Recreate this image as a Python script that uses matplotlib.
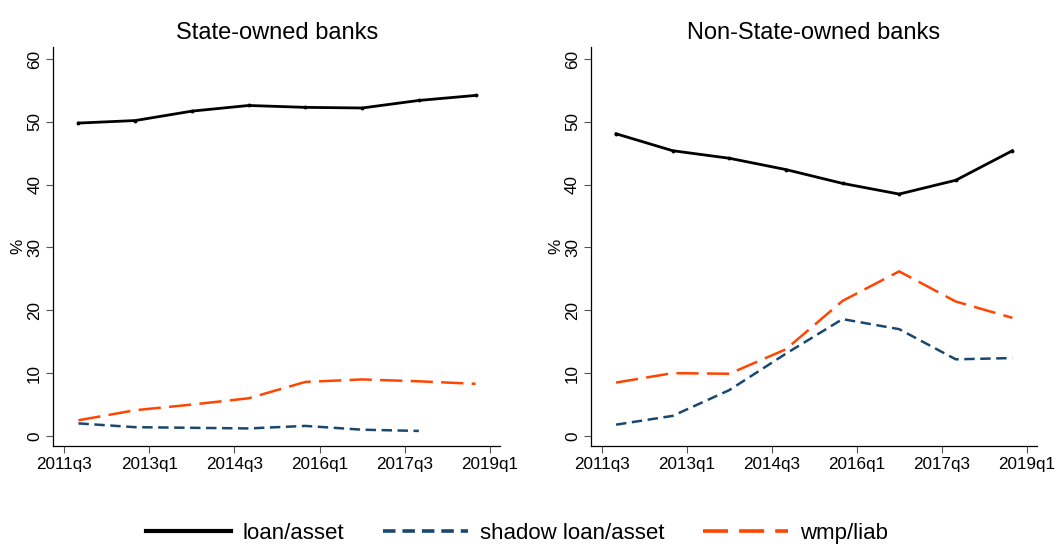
import matplotlib
matplotlib.use('Agg')
import matplotlib.pyplot as plt
from matplotlib.lines import Line2D

plt.rcParams['font.family'] = ['Liberation Sans', 'DejaVu Sans']
plt.rcParams['lines.scale_dashes'] = False

# yearly observations, stamped at the fourth quarter
periods = ['2011q4', '2012q4', '2013q4', '2014q4', '2015q4', '2016q4', '2017q4', '2018q4']
tick_labels = ['2011q3', '2013q1', '2014q3', '2016q1', '2017q3', '2019q1']

soe_loan = [49.8, 50.2, 51.7, 52.6, 52.3, 52.2, 53.4, 54.2]
soe_shadow = [2.0, 1.4, 1.3, 1.2, 1.6, 1.0, 0.8]
soe_wmp = [2.5, 4.1, 5.0, 6.0, 8.6, 9.0, 8.7, 8.3]

non_loan = [48.1, 45.4, 44.2, 42.4, 40.2, 38.5, 40.7, 45.4]
non_shadow = [1.8, 3.2, 7.3, 13.1, 18.6, 17.0, 12.2, 12.4]
non_wmp = [8.5, 10.0, 9.9, 13.8, 21.5, 26.2, 21.4, 18.8]

NAVY = '#1a476f'
ORANGE = '#ff4500'
SHORT_DASH = (0, (7.5, 4))
LONG_DASH = (0, (16, 6))


def qindex(label):
    # quarters counted from 2011q3
    year, q = label.split('q')
    return (int(year) - 2011) * 4 + int(q) - 3


x = [qindex(p) for p in periods]
ticks = [qindex(t) for t in tick_labels]


def draw_panel(ax, title, loan, shadow, wmp):
    ax.plot(x[:len(loan)], loan, color='black', lw=2.0, marker='o', ms=1.8)
    ax.plot(x[:len(shadow)], shadow, color=NAVY, lw=1.8, linestyle=SHORT_DASH)
    ax.plot(x[:len(wmp)], wmp, color=ORANGE, lw=1.8, linestyle=LONG_DASH)
    ax.set_xlim(-0.77, 30.72)
    ax.set_ylim(-1.6, 61.9)
    ax.set_xticks(ticks)
    ax.set_xticklabels(tick_labels, fontsize=12.3)
    ax.set_yticks(range(0, 61, 10))
    ax.set_yticklabels([str(v) for v in range(0, 61, 10)], fontsize=12.3,
                       rotation=90, va='center')
    ax.tick_params(length=5, width=0.8, color='#555555', pad=3)
    ax.spines['top'].set_visible(False)
    ax.spines['right'].set_visible(False)
    ax.spines['left'].set_linewidth(0.9)
    ax.spines['bottom'].set_linewidth(0.9)
    ax.set_ylabel('%', fontsize=12.3, labelpad=1)
    ax.set_title(title, fontsize=17, pad=6)


fig = plt.figure(figsize=(10.62, 5.47), dpi=100)
ax1 = fig.add_axes([0.0502, 0.1846, 0.4206, 0.7294])
ax2 = fig.add_axes([0.5565, 0.1846, 0.4197, 0.7294])

draw_panel(ax1, 'State-owned banks', soe_loan, soe_shadow, soe_wmp)
draw_panel(ax2, 'Non-State-owned banks', non_loan, non_shadow, non_wmp)

handles = [
    Line2D([], [], color='black', lw=3),
    Line2D([], [], color=NAVY, lw=2.6, linestyle=(0, (9, 5))),
    Line2D([], [], color=ORANGE, lw=2.6, linestyle=(0, (18, 8))),
]
fig.legend(handles, ['loan/asset', 'shadow loan/asset', 'wmp/liab'],
           loc='center', bbox_to_anchor=(0.487, 0.025), ncol=3, frameon=False,
           fontsize=16, handlelength=3.8, handletextpad=0.55, columnspacing=1.75)

fig.savefig('out.png', dpi=100)
